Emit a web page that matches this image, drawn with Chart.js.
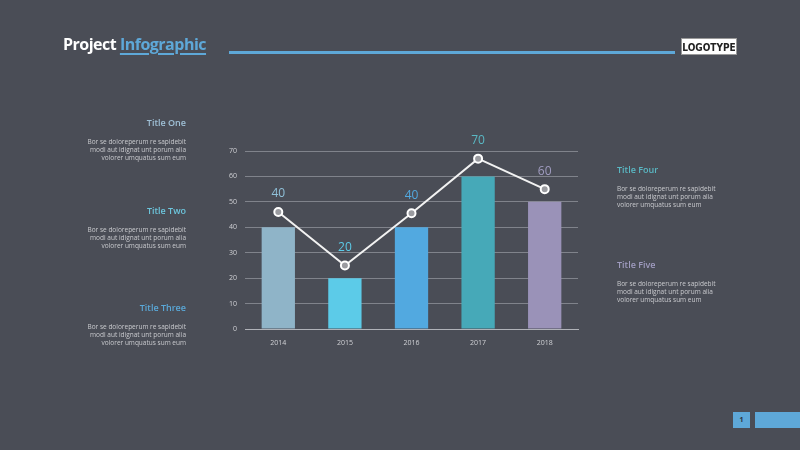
<!DOCTYPE html>
<html>
<head>
<meta charset="utf-8">
<script src="https://cdn.jsdelivr.net/npm/chart.js@4/dist/chart.umd.min.js"></script>
<style>
  body { margin: 0; background: #4a4d56; font-family: "Open Sans", sans-serif; }
  #wrap { position: relative; width: 800px; height: 450px; overflow: hidden; background: #4a4d56; }
  #chart { position: absolute; left: 0; top: 0; }
  .head { position: absolute; left: 63px; top: 33px; font-size: 16px; font-weight: 700; color: #fff; letter-spacing: -0.5px; }
  .head span { color: #5ea8d8; text-decoration: underline; text-decoration-thickness: 2px; text-underline-offset: 3px; }
  .rule { position: absolute; left: 229px; top: 51px; width: 446px; height: 3px; background: #5ea8d8; }
  .logo { position: absolute; left: 681px; top: 38px; width: 56px; height: 17px; background: #fff; color: #222; font: 10px "Liberation Sans Narrow", "DejaVu Sans Condensed", sans-serif; font-weight: 700; text-align: center; line-height: 17px; border: 1px solid #999; box-sizing: border-box; }
  .block { position: absolute; width: 140px; }
  .block.left { text-align: right; }
  .block h3 { margin: 0 0 9px 0; font-size: 9px; font-weight: 600; }
  .block p { margin: 0; font-size: 6.5px; line-height: 8px; color: #c9cace; }
  .page { position: absolute; left: 733px; top: 412px; width: 17px; height: 16px; background: #5ea8d8; color: #2c3440; font-size: 7px; font-weight: 700; text-align: center; line-height: 16px; }
  .pagebar { position: absolute; left: 755px; top: 412px; width: 45px; height: 16px; background: #5ea8d8; }
</style>
</head>
<body>
<div id="wrap">
  <canvas id="chart" width="800" height="450"></canvas>
  <div class="head">Project <span>Infographic</span></div>
  <div class="rule"></div>
  <div class="logo">LOGOTYPE</div>

  <div class="block left" style="left:46px; top:116px;"><h3 style="color:#9fc0d6">Title One</h3><p>Bor se doloreperum re sapidebit<br>modi aut idignat unt porum alia<br>volorer umquatus sum eum</p></div>
  <div class="block left" style="left:46px; top:204px;"><h3 style="color:#6cc5dc">Title Two</h3><p>Bor se doloreperum re sapidebit<br>modi aut idignat unt porum alia<br>volorer umquatus sum eum</p></div>
  <div class="block left" style="left:46px; top:301px;"><h3 style="color:#5aa8d8">Title Three</h3><p>Bor se doloreperum re sapidebit<br>modi aut idignat unt porum alia<br>volorer umquatus sum eum</p></div>
  <div class="block" style="left:617px; top:163px;"><h3 style="color:#5ab8c4">Title Four</h3><p>Bor se doloreperum re sapidebit<br>modi aut idignat unt porum alia<br>volorer umquatus sum eum</p></div>
  <div class="block" style="left:617px; top:258px;"><h3 style="color:#a09cc0">Title Five</h3><p>Bor se doloreperum re sapidebit<br>modi aut idignat unt porum alia<br>volorer umquatus sum eum</p></div>

  <div class="page">1</div>
  <div class="pagebar"></div>
</div>
<script>
const years = ['2014', '2015', '2016', '2017', '2018'];
const barValues = [40, 20, 40, 60, 50];
const lineValues = [46, 25, 45.5, 67, 55];
const lineLabels = ['40', '20', '40', '70', '60'];
const barColors = ['#8fb4c8', '#5ccbe8', '#52a9e0', '#46a9b8', '#9a92b8'];
const labelColors = ['#8fc0d8', '#5ccbe8', '#52a9e0', '#5ab8c4', '#a09cc0'];
const yTicks = [0, 10, 20, 30, 40, 50, 60, 70];

// draws the numbers above each line point
const valueLabels = {
    id: 'valueLabels',
    afterDatasetsDraw(chart) {
        const ctx = chart.ctx;
        const meta = chart.getDatasetMeta(1);
        ctx.save();
        ctx.font = '12px "Open Sans", sans-serif';
        ctx.textAlign = 'center';
        ctx.textBaseline = 'middle';
        meta.data.forEach((pt, i) => {
            ctx.fillStyle = labelColors[i];
            ctx.fillText(lineLabels[i], pt.x, pt.y - 18);
        });
        ctx.restore();
    }
};

new Chart(document.getElementById('chart').getContext('2d'), {
    data: {
        labels: years,
        datasets: [
            {
                type: 'bar',
                data: barValues,
                backgroundColor: barColors,
                barPercentage: 0.5,
                categoryPercentage: 1,
                order: 2
            },
            {
                type: 'line',
                data: lineValues,
                borderColor: '#f2f2f2',
                borderWidth: 2,
                pointRadius: 4,
                pointBackgroundColor: '#9a9ba0',
                pointBorderColor: '#ffffff',
                pointBorderWidth: 2,
                tension: 0,
                order: 1
            }
        ]
    },
    options: {
        responsive: false,
        animation: false,
        layout: { padding: { left: 220, right: 222, top: 151, bottom: 0 } },
        plugins: { legend: { display: false }, tooltip: { enabled: false } },
        scales: {
            x: {
                grid: { display: false, drawTicks: false },
                border: { color: '#b0b2b8', width: 1 },
                ticks: { color: '#d0d1d5', font: { size: 7, family: '"Open Sans", sans-serif' }, padding: 10 },
                afterFit(scale) { scale.height = 121; }
            },
            y: {
                min: 0,
                max: 70,
                afterBuildTicks(scale) { scale.ticks = yTicks.map(v => ({ value: v })); },
                grid: { color: '#80838b', drawTicks: false, lineWidth: 1 },
                border: { display: false },
                ticks: { color: '#d0d1d5', font: { size: 7, family: '"Open Sans", sans-serif' }, padding: 8 },
                afterFit(scale) { scale.width = 25; }
            }
        }
    },
    plugins: [valueLabels]
});
</script>
</body>
</html>
